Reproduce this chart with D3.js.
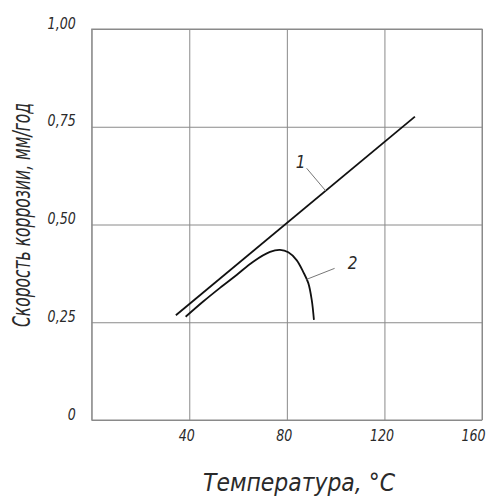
<!DOCTYPE html>
<html>
<head>
<meta charset="utf-8">
<script src="https://cdn.jsdelivr.net/npm/d3@7/dist/d3.min.js"></script>
<style>
  html, body { margin: 0; padding: 0; background: #fff; }
  svg text { font-family: "DejaVu Sans Condensed", "Liberation Sans Narrow", sans-serif; font-style: italic; fill: #2a2a2a; }
</style>
</head>
<body>
<svg id="chart" width="491" height="497"></svg>
<script>
// Temperature ticks (°C) and their labels
const xTicks = [0, 40, 80, 120, 160];
const xTickLabels = ["", "40", "80", "120", "160"];
// Corrosion rate ticks (mm/year) and their labels
const yTicks = [0, 0.25, 0.5, 0.75, 1.0];
const yTickLabels = ["0", "0,25", "0,50", "0,75", "1,00"];

// Curve 1: straight line
const curve1T = [34.5, 132.5];
const curve1V = [0.268, 0.776];
// Curve 2: rises, peaks near 77 °C, then drops
const curve2T = [38.5, 45.7, 52.6, 59.4, 66.2, 73.1, 77.2, 80.6, 84.0, 86.7, 88.8, 90.2, 91.1];
const curve2V = [0.264, 0.303, 0.338, 0.371, 0.405, 0.430, 0.435, 0.429, 0.409, 0.379, 0.350, 0.307, 0.256];

// Curve numbers and the temperature where each leader touches its curve
const curveLabels = ["1", "2"];
const labelAnchorT = [95.9, 88.1];

const svg = d3.select("#chart");
const plotL = 91.7, plotR = 482, plotT = 29, plotB = 420;

const x = d3.scaleLinear().domain([0, 160]).range([plotL, plotR]);
const y = d3.scaleLinear().domain([0, 1]).range([plotB, plotT]);

const gridColor = "#8a8a8a";

// Narrow drafting-style lettering: squeeze each text horizontally
function squeeze(sel, k) {
  sel.each(function () {
    const w = this.getComputedTextLength();
    if (w > 0) d3.select(this).attr("textLength", w * k).attr("lengthAdjust", "spacingAndGlyphs");
  });
}

// Vertical grid lines
const gx = svg.append("g")
  .attr("transform", `translate(0,${plotB})`)
  .call(d3.axisBottom(x).tickValues(xTicks).tickSize(-(plotB - plotT)).tickFormat((d, i) => xTickLabels[i]));
gx.select(".domain").remove();
gx.selectAll(".tick line").attr("stroke", gridColor).attr("stroke-width", 1);
gx.selectAll(".tick text").attr("font-size", 16.5).attr("dy", 0).attr("y", 21)
  .attr("dx", d => d === 160 ? -9 : -3).attr("fill", "#2a2a2a");
squeeze(gx.selectAll(".tick text"), 0.85);

// Horizontal grid lines
const gy = svg.append("g")
  .attr("transform", `translate(${plotL},0)`)
  .call(d3.axisLeft(y).tickValues(yTicks).tickSize(-(plotR - plotL)).tickFormat((d, i) => yTickLabels[i]));
gy.select(".domain").remove();
gy.selectAll(".tick line").attr("stroke", gridColor).attr("stroke-width", 1);
gy.selectAll(".tick text").attr("font-size", 16.5).attr("x", -16).attr("dy", -1).attr("text-anchor", "end").attr("fill", "#2a2a2a");
squeeze(gy.selectAll(".tick text"), 0.85);

// Plot frame
svg.append("rect")
  .attr("x", plotL).attr("y", plotT)
  .attr("width", plotR - plotL).attr("height", plotB - plotT)
  .attr("fill", "none").attr("stroke", gridColor).attr("stroke-width", 1);

// Curves
const line = d3.line().x(d => x(d[0])).y(d => y(d[1]));
svg.append("path")
  .datum(d3.zip(curve1T, curve1V))
  .attr("d", line)
  .attr("fill", "none").attr("stroke", "#111").attr("stroke-width", 1.8);

const smooth = d3.line().x(d => x(d[0])).y(d => y(d[1])).curve(d3.curveCatmullRom.alpha(0.5));
svg.append("path")
  .datum(d3.zip(curve2T, curve2V))
  .attr("d", smooth)
  .attr("fill", "none").attr("stroke", "#111").attr("stroke-width", 1.8);

// Curve numbers with leader lines
const interp1 = t => d3.scaleLinear().domain(curve1T).range(curve1V)(t);
const interp2 = t => d3.scaleLinear().domain(curve2T).range(curve2V)(t);
const anchors = [
  [x(labelAnchorT[0]), y(interp1(labelAnchorT[0]))],
  [x(labelAnchorT[1]), y(interp2(labelAnchorT[1]))]
];
const leaderStart = [[anchors[0][0] - 19, anchors[0][1] - 22.5], [anchors[1][0] + 28, anchors[1][1] - 11]];
const labelPos = [[leaderStart[0][0] - 6, leaderStart[0][1] - 0.5], [leaderStart[1][0] + 18, leaderStart[1][1] + 1]];

curveLabels.forEach((lab, i) => {
  svg.append("line")
    .attr("x1", leaderStart[i][0]).attr("y1", leaderStart[i][1])
    .attr("x2", anchors[i][0]).attr("y2", anchors[i][1])
    .attr("stroke", "#777").attr("stroke-width", 1);
  svg.append("text")
    .attr("x", labelPos[i][0]).attr("y", labelPos[i][1])
    .attr("text-anchor", "middle")
    .attr("font-size", 17)
    .text(lab);
});

// Axis titles
svg.append("text")
  .attr("x", 299).attr("y", 491)
  .attr("text-anchor", "middle")
  .attr("font-size", 25)
  .attr("textLength", 192).attr("lengthAdjust", "spacingAndGlyphs")
  .text("Температура, °С");

svg.append("text")
  .attr("transform", "translate(30,215) rotate(-90)")
  .attr("text-anchor", "middle")
  .attr("font-size", 25)
  .attr("textLength", 224).attr("lengthAdjust", "spacingAndGlyphs")
  .text("Скорость коррозии, мм/год");
</script>
</body>
</html>
